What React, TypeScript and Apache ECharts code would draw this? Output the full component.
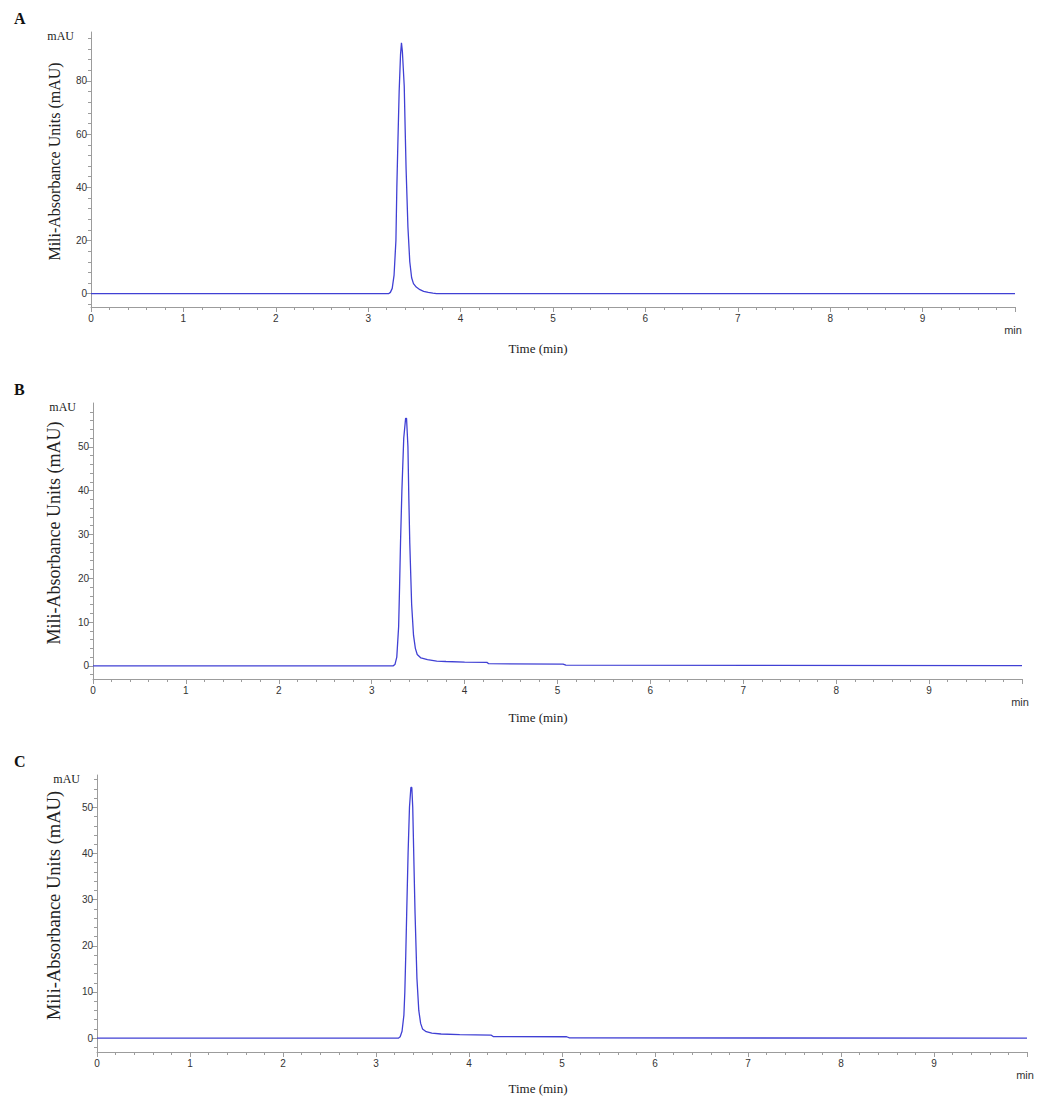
import React, { useEffect, useRef } from "react";
import * as echarts from "echarts";

// ---- Data ----
const PANEL_LETTERS = ["A", "B", "C"];
const X_TICK_LABELS = ["0", "1", "2", "3", "4", "5", "6", "7", "8", "9"];

const A_TIME = [0, 3.22, 3.24, 3.26, 3.28, 3.3, 3.31, 3.32, 3.335, 3.35, 3.36, 3.37, 3.39, 3.4, 3.41, 3.43, 3.45, 3.47, 3.49, 3.52, 3.56, 3.6, 3.65, 3.7, 3.74, 10];
const A_MAU = [0, 0, 0.5, 2, 7, 20, 40, 55, 76, 90, 94.3, 91, 78, 62, 47, 25, 12, 6, 3.8, 2.5, 1.5, 0.9, 0.5, 0.2, 0, 0];

const B_TIME = [0, 3.23, 3.25, 3.27, 3.29, 3.3, 3.31, 3.325, 3.345, 3.365, 3.375, 3.39, 3.4, 3.41, 3.43, 3.45, 3.47, 3.49, 3.53, 3.6, 3.7, 3.8, 4.0, 4.24, 4.26, 5.06, 5.09, 10];
const B_MAU = [0, 0, 0.3, 2, 9, 18, 28, 40, 52, 56.5, 56.5, 50, 38, 28, 14, 7, 4, 2.6, 1.8, 1.4, 1.1, 1.0, 0.85, 0.8, 0.5, 0.4, 0.15, 0.05];

const C_TIME = [0, 3.24, 3.26, 3.28, 3.3, 3.31, 3.32, 3.33, 3.345, 3.36, 3.375, 3.385, 3.395, 3.41, 3.42, 3.44, 3.46, 3.48, 3.5, 3.54, 3.6, 3.7, 3.9, 4.24, 4.26, 5.05, 5.08, 10];
const C_MAU = [0, 0, 0.3, 1.5, 5, 10, 18, 27, 40, 50, 54.3, 54.3, 50, 36, 27, 13, 6, 3.2, 2.0, 1.4, 1.1, 0.9, 0.75, 0.65, 0.35, 0.3, 0.05, 0];

const A_Y_TICKS = [0, 20, 40, 60, 80];
const B_Y_TICKS = [0, 10, 20, 30, 40, 50];
const C_Y_TICKS = [0, 10, 20, 30, 40, 50];

const A_Y_MINOR = [-4, 4, 8, 12, 16, 24, 28, 32, 36, 44, 48, 52, 56, 64, 68, 72, 76, 84, 88, 92, 96];
const B_Y_MINOR = [-2, 2, 4, 6, 8, 12, 14, 16, 18, 22, 24, 26, 28, 32, 34, 36, 38, 42, 44, 46, 48, 52, 54, 56, 58];
const C_Y_MINOR = [-2, 2, 4, 6, 8, 12, 14, 16, 18, 22, 24, 26, 28, 32, 34, 36, 38, 42, 44, 46, 48, 52, 54, 56];

// ---- Layout ----
const PANELS = [
  { left: 91, top: 32, width: 924, height: 275, yMin: -5, yMax: 98.4, ticks: A_Y_TICKS, minor: A_Y_MINOR, time: A_TIME, mau: A_MAU, titleSize: 16, timeGap: 41 },
  { left: 93, top: 403, width: 929, height: 276, yMin: -3, yMax: 60, ticks: B_Y_TICKS, minor: B_Y_MINOR, time: B_TIME, mau: B_MAU, titleSize: 18, timeGap: 38 },
  { left: 97, top: 775, width: 930, height: 277, yMin: -3, yMax: 57, ticks: C_Y_TICKS, minor: C_Y_MINOR, time: C_TIME, mau: C_MAU, titleSize: 18.5, timeGap: 36 },
];

const AXIS_COLOR = "#9c9c9c";
const LINE_COLOR = "#4040d4";
const SERIF = "'Liberation Serif', 'DejaVu Serif', serif";
const SANS = "'Liberation Sans', Arial, sans-serif";

export default function App() {
  const ref = useRef<HTMLDivElement>(null);

  useEffect(() => {
    if (!ref.current) return;
    const chart = echarts.init(ref.current, null, { renderer: "svg" });

    const grid: any[] = [];
    const xAxis: any[] = [];
    const yAxis: any[] = [];
    const series: any[] = [];
    const graphic: any[] = [];

    PANELS.forEach((p, i) => {
      grid.push({ left: p.left, top: p.top, width: p.width, height: p.height, containLabel: false });
      xAxis.push({
        type: "value",
        gridIndex: i,
        min: 0,
        max: 10,
        interval: 1,
        axisLine: { show: true, onZero: false, lineStyle: { color: AXIS_COLOR, width: 1 } },
        axisTick: { show: true, length: 5, lineStyle: { color: AXIS_COLOR } },
        minorTick: { show: true, splitNumber: 5, length: 3, lineStyle: { color: AXIS_COLOR } },
        axisLabel: {
          margin: 6,
          fontFamily: SANS,
          fontSize: 10,
          color: "#333",
          formatter: (v: number) => (X_TICK_LABELS[Math.round(v)] !== undefined && v < 10 ? X_TICK_LABELS[Math.round(v)] : ""),
        },
        splitLine: { show: false },
        minorSplitLine: { show: false },
      });
      yAxis.push({
        type: "value",
        gridIndex: i,
        position: "left",
        min: p.yMin,
        max: p.yMax,
        axisLine: { show: true, lineStyle: { color: AXIS_COLOR, width: 1 } },
        axisTick: { show: true, customValues: p.ticks, length: 5, lineStyle: { color: AXIS_COLOR } },
        axisLabel: { show: true, customValues: p.ticks, margin: 4, fontFamily: SANS, fontSize: 10, color: "#333" },
        splitLine: { show: false },
      });
      yAxis.push({
        type: "value",
        gridIndex: i,
        position: "left",
        min: p.yMin,
        max: p.yMax,
        axisLine: { show: false },
        axisTick: { show: true, customValues: p.minor, length: 3, lineStyle: { color: AXIS_COLOR } },
        axisLabel: { show: false },
        splitLine: { show: false },
      });
      series.push({
        type: "line",
        xAxisIndex: i,
        yAxisIndex: i * 2,
        showSymbol: false,
        symbol: "none",
        lineStyle: { color: LINE_COLOR, width: 1.3 },
        data: p.time.map((t, k) => [t, p.mau[k]]),
      });

      const bottom = p.top + p.height;
      graphic.push(
        {
          type: "text",
          left: 14,
          top: p.top - 22,
          style: { text: PANEL_LETTERS[i], font: `bold 16px ${SERIF}`, fill: "#111" },
        },
        {
          type: "text",
          x: p.left - 17,
          y: p.top + 4,
          style: { text: "mAU", font: `12px ${SERIF}`, fill: "#222", align: "right", verticalAlign: "middle" },
        },
        {
          type: "text",
          x: 54,
          y: p.top + p.height / 2 - 8,
          rotation: Math.PI / 2,
          style: {
            text: "Mili-Absorbance Units (mAU)",
            font: `${p.titleSize}px ${SERIF}`,
            fill: "#222",
            align: "center",
            verticalAlign: "middle",
          },
        },
        {
          type: "text",
          x: 538,
          y: bottom + p.timeGap,
          style: { text: "Time (min)", font: `13px ${SERIF}`, fill: "#222", align: "center", verticalAlign: "middle" },
        },
        {
          type: "text",
          x: p.left + p.width - 2,
          y: bottom + 23,
          style: { text: "min", font: `11px ${SANS}`, fill: "#333", align: "center", verticalAlign: "middle" },
        }
      );
    });

    chart.setOption({
      animation: false,
      backgroundColor: "#ffffff",
      grid,
      xAxis,
      yAxis,
      series,
      graphic,
    });

    return () => chart.dispose();
  }, []);

  return (
    <div
      ref={ref}
      style={{ position: "absolute", left: 0, top: 0, width: 1039, height: 1098, background: "#fff" }}
    />
  );
}
